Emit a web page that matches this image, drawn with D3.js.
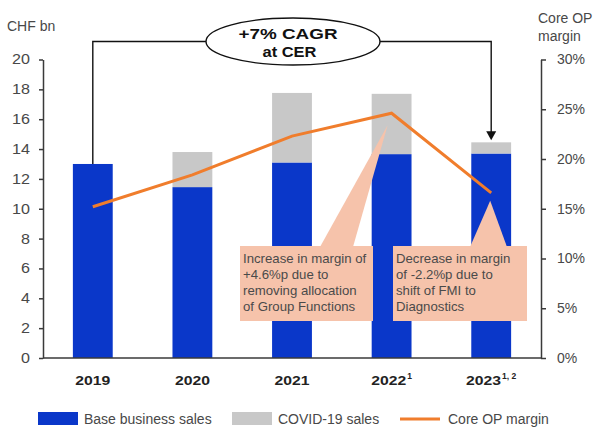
<!DOCTYPE html>
<html>
<head>
<meta charset="utf-8">
<script src="https://cdn.jsdelivr.net/npm/d3@7"></script>
<style>
  html, body { margin: 0; padding: 0; background: #fff; }
  svg { display: block; font-family: "Liberation Sans", Arial, sans-serif; }
</style>
</head>
<body>
<svg id="chart" width="594" height="428"></svg>
<script>
// Sales (CHF bn) and core operating profit margin (%) by year
const years = ["2019", "2020", "2021", "2022", "2023"];
const yearNotes = ["", "", "", "1", "1, 2"];
const baseSales = [13.0, 11.45, 13.1, 13.66, 13.7];
const covidSales = [0, 2.35, 4.66, 4.04, 0.75];
const coreMargin = [15.2, 18.4, 22.3, 24.6, 16.6];
const salesTicks = [0, 2, 4, 6, 8, 10, 12, 14, 16, 18, 20];
const marginTicks = [0, 5, 10, 15, 20, 25, 30];
const legendItems = ["Base business sales", "COVID-19 sales", "Core OP margin"];
const cagrLines = ["+7% CAGR", "at CER"];
const callouts = [
  { year: "2022", lines: ["Increase in margin of", "+4.6%p due to", "removing allocation", "of Group Functions"] },
  { year: "2023", lines: ["Decrease in margin", "of -2.2%p due to", "shift of FMI to", "Diagnostics"] }
];

const BLUE = "#0a37c9", GREY = "#c8c8c8", ORANGE = "#f07d2c", PEACH = "#f6c3ab";
const AXIS = "#3a3a3a", TEXT = "#484848";

const svg = d3.select("#chart");

const x = d3.scaleBand().domain(years).range([43, 541]).paddingInner(0.6).paddingOuter(0.3);
const yL = d3.scaleLinear().domain([0, 20]).range([358, 59.5]);
const yR = d3.scaleLinear().domain([0, 30]).range([358, 59.5]);
const cx = y => x(y) + x.bandwidth() / 2;

// Widen a text run to a given width (the house typeface is broader than Arial)
function widen(sel, width) {
  sel.attr("textLength", width).attr("lengthAdjust", "spacingAndGlyphs");
}

// Stacked bars: base business at the bottom, COVID-19 sales on top
const bars = svg.append("g");
years.forEach((yr, i) => {
  bars.append("rect")
    .attr("x", x(yr)).attr("width", x.bandwidth())
    .attr("y", yL(baseSales[i])).attr("height", yL(0) - yL(baseSales[i]))
    .attr("fill", BLUE);
  if (covidSales[i] > 0) {
    bars.append("rect")
      .attr("x", x(yr)).attr("width", x.bandwidth())
      .attr("y", yL(baseSales[i] + covidSales[i]))
      .attr("height", yL(baseSales[i]) - yL(baseSales[i] + covidSales[i]))
      .attr("fill", GREY);
  }
});

// Left axis (sales)
const leftAxis = svg.append("g").attr("transform", "translate(43,0)")
  .call(d3.axisLeft(yL).tickValues(salesTicks).tickSize(4).tickSizeOuter(0).tickPadding(9));
// Right axis (margin)
const rightAxis = svg.append("g").attr("transform", "translate(541,0)")
  .call(d3.axisRight(yR).tickValues(marginTicks).tickSize(5).tickSizeOuter(0).tickPadding(11)
    .tickFormat(d => d + "%"));
[leftAxis, rightAxis].forEach(g => {
  g.select(".domain").attr("stroke", AXIS).attr("stroke-width", 1.5);
  g.selectAll(".tick line").attr("stroke", AXIS).attr("stroke-width", 1.5);
  g.selectAll(".tick text").attr("fill", TEXT).attr("font-size", 14)
    .attr("font-family", "\"Liberation Sans\", Arial, sans-serif");
});
leftAxis.selectAll(".tick text").each(function () {
  const t = d3.select(this);
  widen(t, this.getComputedTextLength() * 1.15);
});
// Baseline
svg.append("line").attr("x1", 43).attr("x2", 541).attr("y1", yL(0)).attr("y2", yL(0))
  .attr("stroke", AXIS).attr("stroke-width", 1.5);

// Year labels with footnote markers
years.forEach((yr, i) => {
  const g = svg.append("g");
  const main = g.append("text").attr("y", 385).attr("font-weight", "bold")
    .attr("font-size", 13).attr("fill", "#222").text(yr);
  widen(main, 35);
  let w = 35;
  if (yearNotes[i]) {
    const sup = g.append("text").attr("x", 36).attr("y", 379).attr("font-weight", "bold")
      .attr("font-size", 8.5).attr("fill", "#222").text(yearNotes[i]);
    w = 36 + sup.node().getComputedTextLength();
  }
  g.attr("transform", `translate(${cx(yr) - w / 2},0)`);
});

// Axis titles
svg.append("text").attr("x", 7).attr("y", 31).attr("font-size", 14).attr("fill", TEXT).text("CHF bn");
svg.append("text").attr("x", 538).attr("y", 23).attr("font-size", 14).attr("fill", TEXT).text("Core OP");
svg.append("text").attr("x", 538).attr("y", 41).attr("font-size", 14).attr("fill", TEXT).text("margin");

// Callout boxes pointing at the margin line
const boxes = [
  { x0: 240, x1: 373, base: [320, 353] },
  { x0: 393, x1: 527, base: [470, 507] }
];
callouts.forEach((c, k) => {
  const b = boxes[k];
  const i = years.indexOf(c.year);
  const tipX = cx(c.year) - (k === 0 ? 4 : 1);
  const tipY = yR(coreMargin[i]) + (k === 0 ? 12 : 8);
  const top = 246, bottom = 321;
  svg.append("path")
    .attr("d", d3.line()([[b.base[0], top + 1], [tipX, tipY], [b.base[1], top + 1]]) + "Z")
    .attr("fill", PEACH);
  svg.append("rect").attr("x", b.x0).attr("y", top).attr("width", b.x1 - b.x0)
    .attr("height", bottom - top).attr("fill", PEACH);
  const t = svg.append("text").attr("font-size", 13.2).attr("fill", "#4a4a4a");
  c.lines.forEach((ln, j) => {
    t.append("tspan").attr("x", b.x0 + 3).attr("y", top + 17 + j * 16).text(ln);
  });
});

// Core OP margin line
svg.append("path")
  .datum(years.map((yr, i) => [cx(yr), yR(coreMargin[i])]))
  .attr("d", d3.line())
  .attr("fill", "none").attr("stroke", ORANGE).attr("stroke-width", 3)
  .attr("stroke-linejoin", "miter");

// CAGR bracket from 2019 to 2023
const ell = { cx: 293, cy: 41.5, rx: 87, ry: 23.5 };
const first = years[0], last = years[years.length - 1];
const firstTop = yL(baseSales[0] + covidSales[0]);
const lastTop = yL(baseSales[4] + covidSales[4]);
svg.append("path")
  .attr("d", `M${ell.cx - ell.rx},${ell.cy} H${cx(first)} V${firstTop}`)
  .attr("fill", "none").attr("stroke", "#111").attr("stroke-width", 1.4);
svg.append("path")
  .attr("d", `M${ell.cx + ell.rx},${ell.cy} H${cx(last)} V${lastTop - 10}`)
  .attr("fill", "none").attr("stroke", "#111").attr("stroke-width", 1.4);
svg.append("path")
  .attr("d", `M${cx(last) - 5},${lastTop - 11} L${cx(last) + 5},${lastTop - 11} L${cx(last)},${lastTop - 2} Z`)
  .attr("fill", "#111");
svg.append("ellipse").attr("cx", ell.cx).attr("cy", ell.cy).attr("rx", ell.rx).attr("ry", ell.ry)
  .attr("fill", "#fff").attr("stroke", "#111").attr("stroke-width", 1.4);
const c1 = svg.append("text").attr("x", 288).attr("y", 38.5).attr("text-anchor", "middle")
  .attr("font-weight", "bold").attr("font-size", 15.5).attr("fill", "#111").text(cagrLines[0]);
widen(c1, 99);
const c2 = svg.append("text").attr("x", 289.5).attr("y", 57).attr("text-anchor", "middle")
  .attr("font-weight", "bold").attr("font-size", 15.5).attr("fill", "#111").text(cagrLines[1]);
widen(c2, 54);

// Legend
const lg = svg.append("g");
lg.append("rect").attr("x", 38).attr("y", 412).attr("width", 40).attr("height", 13).attr("fill", BLUE);
lg.append("text").attr("x", 84).attr("y", 424).attr("font-size", 14).attr("fill", TEXT).text(legendItems[0]);
lg.append("rect").attr("x", 232).attr("y", 412).attr("width", 40).attr("height", 13).attr("fill", GREY);
lg.append("text").attr("x", 278).attr("y", 424).attr("font-size", 14).attr("fill", TEXT).text(legendItems[1]);
lg.append("line").attr("x1", 400).attr("x2", 440).attr("y1", 419).attr("y2", 419)
  .attr("stroke", ORANGE).attr("stroke-width", 3);
lg.append("text").attr("x", 448).attr("y", 424).attr("font-size", 14).attr("fill", TEXT).text(legendItems[2]);
</script>
</body>
</html>
